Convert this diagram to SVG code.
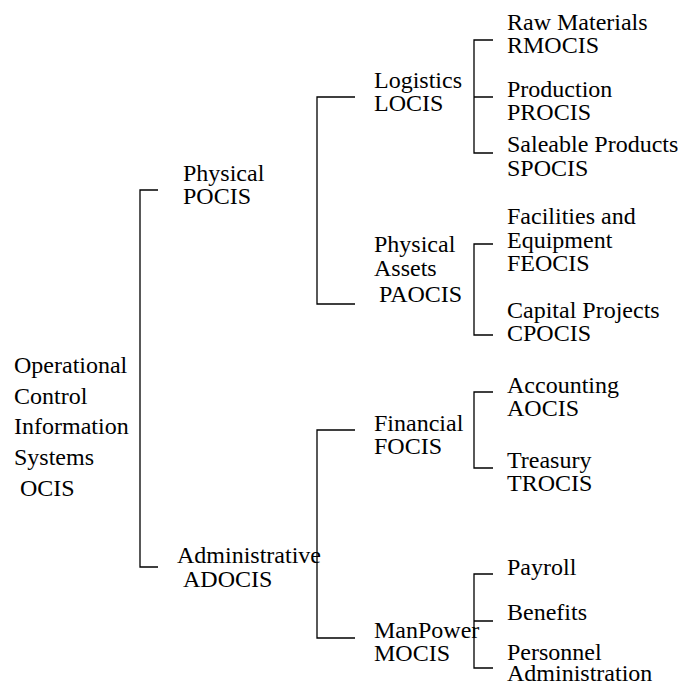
<svg xmlns="http://www.w3.org/2000/svg" width="678" height="684" viewBox="0 0 678 684">
  <style>
    text { font-family: "Liberation Serif", "Times New Roman", serif; font-size: 24px; fill: #000; }
    .link { fill: none; stroke: #000; stroke-width: 1.3; }
  </style>
  <rect width="678" height="684" fill="#fff"/>

  <!-- bracket connectors -->
  <g id="connectors">
    <path class="link" d="M158,190 H140 V567 H158"/>
    <path class="link" d="M355,97 H317 V304 H355"/>
    <path class="link" d="M355,430 H317 V638 H355"/>
    <path class="link" d="M493,40 H474 V153 H493 M474,97 H493"/>
    <path class="link" d="M493,244 H474 V335 H493"/>
    <path class="link" d="M493,392 H474 V468 H493"/>
    <path class="link" d="M493,574 H474 V668 H493 M474,621 H493"/>
  </g>

  <!-- root -->
  <g id="ocis">
    <text x="14" y="373">Operational</text>
    <text x="14" y="404">Control</text>
    <text x="14" y="434">Information</text>
    <text x="14" y="465">Systems</text>
    <text x="20" y="496">OCIS</text>
  </g>

  <!-- second level -->
  <g id="pocis">
    <text x="183" y="181">Physical</text>
    <text x="183" y="204">POCIS</text>
  </g>
  <g id="adocis">
    <text x="177" y="563">Administrative</text>
    <text x="183" y="587">ADOCIS</text>
  </g>

  <!-- third level -->
  <g id="locis">
    <text x="374" y="88">Logistics</text>
    <text x="374" y="111">LOCIS</text>
  </g>
  <g id="paocis">
    <text x="374" y="252">Physical</text>
    <text x="374" y="276">Assets</text>
    <text x="379" y="302">PAOCIS</text>
  </g>
  <g id="focis">
    <text x="374" y="431">Financial</text>
    <text x="374" y="454">FOCIS</text>
  </g>
  <g id="mocis">
    <text x="374" y="638">ManPower</text>
    <text x="374" y="661">MOCIS</text>
  </g>

  <!-- leaves -->
  <g id="rmocis">
    <text x="507" y="30">Raw Materials</text>
    <text x="507" y="53">RMOCIS</text>
  </g>
  <g id="procis">
    <text x="507" y="97">Production</text>
    <text x="507" y="120">PROCIS</text>
  </g>
  <g id="spocis">
    <text x="507" y="152">Saleable Products</text>
    <text x="507" y="176">SPOCIS</text>
  </g>
  <g id="feocis">
    <text x="507" y="224">Facilities and</text>
    <text x="507" y="248">Equipment</text>
    <text x="507" y="271">FEOCIS</text>
  </g>
  <g id="cpocis">
    <text x="507" y="318">Capital Projects</text>
    <text x="507" y="341">CPOCIS</text>
  </g>
  <g id="aocis">
    <text x="507" y="393">Accounting</text>
    <text x="507" y="416">AOCIS</text>
  </g>
  <g id="trocis">
    <text x="507" y="468">Treasury</text>
    <text x="507" y="491">TROCIS</text>
  </g>
  <g id="payroll">
    <text x="507" y="575">Payroll</text>
  </g>
  <g id="benefits">
    <text x="507" y="620">Benefits</text>
  </g>
  <g id="personnel">
    <text x="507" y="660">Personnel</text>
    <text x="507" y="681">Administration</text>
  </g>
</svg>
